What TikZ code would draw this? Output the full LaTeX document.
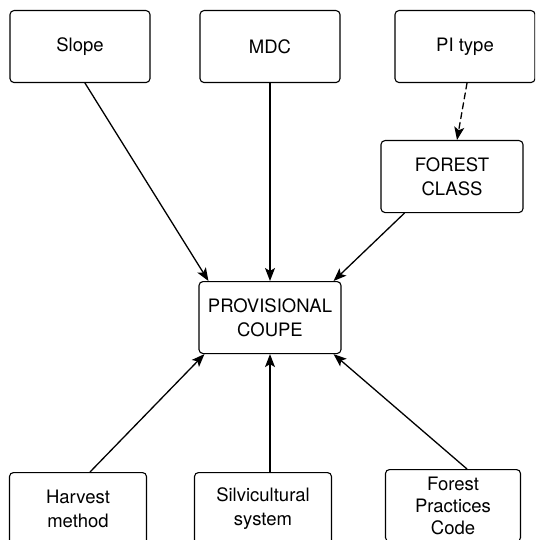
\documentclass[tikz,border=0pt]{standalone}
\usepackage{fontspec}
\setmainfont{TeX Gyre Heros}
\usetikzlibrary{arrows.meta,positioning}

\begin{document}
\begin{tikzpicture}[
  x=1pt,y=-1pt,
  line cap=round,
  line join=round,
  >={Stealth[length=13pt,width=10pt,inset=3pt]},
  every node/.style={font=\fontsize{18.5}{24}\selectfont},
  factor/.style={draw=black,line width=1.1pt,rounded corners=4pt,
    minimum width=140pt,minimum height=72pt,align=center,anchor=north,inner sep=2pt},
  influence/.style={black,line width=1.3pt,->},
  derived/.style={black,line width=1.3pt,dashed,dash pattern=on 6pt off 4pt,->}
]
% Page frame, clipped like the original scan.
\useasboundingbox (0,0) rectangle (535,540);
\clip (0,0) rectangle (535,540);

% Top row.
\node[factor] (slope) at (80,10) {Slope};
\node[factor] (mdc) at (270,10) {MDC};
\node[factor] (pitype) at (465,10) {PI type};
\node[factor,minimum width=142pt] (forestclass) at (452,140) {FOREST\\CLASS};

% Centre.
\node[factor,minimum width=142pt] (coupe) at (270,281) {PROVISIONAL\\COUPE};

% Bottom row (cut off by the page edge).
\node[factor,minimum width=137pt] (harvest) at (78,472) {Harvest\\method};
\node[factor,minimum width=137pt] (silvi) at (263,472) {Silvicultural\\system};
\node[factor,minimum width=135pt,inner sep=0pt,
  font=\fontsize{18.5}{22}\selectfont] (fpc) at (453,469) {Forest\\Practices\\Code};

% Influences on the provisional coupe.
\draw[influence] ([xshift=5pt]slope.south) -- ([xshift=10pt]coupe.north west);
\draw[influence] (mdc.south) -- (coupe.north);
\draw[influence] ([xshift=24pt]forestclass.south west) -- ([xshift=-8pt]coupe.north east);
\draw[derived] ([xshift=2pt]pitype.south) -- ([xshift=5pt]forestclass.north);
\draw[influence] ([xshift=12pt]harvest.north) -- ([xshift=6pt]coupe.south west);
\draw[influence] ([xshift=7pt]silvi.north) -- (coupe.south);
\draw[influence] ([xshift=14pt]fpc.north) -- ([xshift=-8pt]coupe.south east);
\end{tikzpicture}
\end{document}
